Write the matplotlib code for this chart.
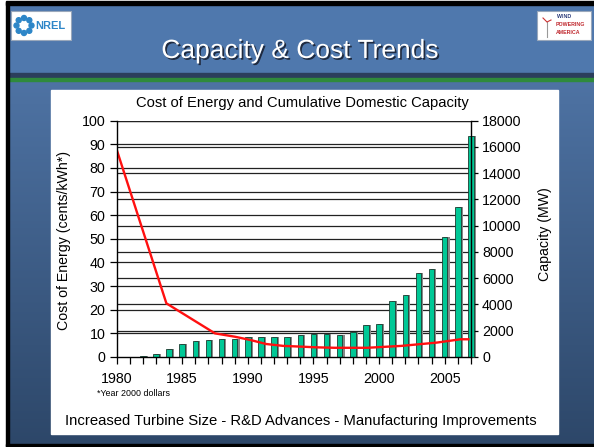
import numpy as np
import matplotlib.pyplot as plt
from matplotlib.patches import Rectangle, Circle
from matplotlib.lines import Line2D
from matplotlib.transforms import blended_transform_factory
import matplotlib.patheffects as pe

plt.rcParams['font.family'] = ['Liberation Sans', 'DejaVu Sans']

# cumulative installed capacity (MW), one bar per year
years = np.arange(1980, 2008)
capacity = [0, 0, 75, 250, 580, 1000, 1210, 1310, 1350, 1340, 1520, 1530, 1550, 1560,
            1680, 1730, 1780, 1650, 1880, 2470, 2540, 4240, 4690, 6370, 6740, 9150,
            11400, 16850]

# cost of energy curve (cents/kWh, year 2000 dollars)
cost_years = [1980, 1983.8, 1987.5, 1989.0, 1990.2, 1991.4, 1992.7, 1994.0, 1995.2,
              1996.6, 1999.1, 2001.7, 2004.4, 2006.2, 2006.8]
cost = [88, 22.7, 10.0, 8.6, 7.2, 5.5, 4.7, 4.4, 4.1, 3.9, 3.9, 4.7, 6.1, 7.5, 7.5]

cost_ticks = np.arange(0, 101, 10)
cap_ticks = np.arange(0, 18001, 2000)
year_labels = [1980, 1985, 1990, 1995, 2000, 2005]

W, H = 594, 447
fig = plt.figure(figsize=(W / 100, H / 100), dpi=100)

# ---- slide background (pixel coordinates) ----
bg = fig.add_axes([0, 0, 1, 1])
bg.set_xlim(0, W)
bg.set_ylim(H, 0)
bg.axis('off')
grad = np.linspace(0, 1, 256)[:, None]
top_c = np.array([0x55, 0x7c, 0xb0]) / 255
bot_c = np.array([0x2d, 0x47, 0x69]) / 255
img = top_c[None, None, :] * (1 - grad[..., None]) + bot_c[None, None, :] * grad[..., None]
bg.imshow(img, extent=[7, W, 445, 4], aspect='auto', zorder=0)
bg.add_patch(Rectangle((7, 4), W, 70, color='#4f78ad', zorder=1))
bg.add_patch(Rectangle((7, 73), W, 5, color='#2b3e5c', zorder=1))
bg.add_patch(Rectangle((7, 78), W, 2.5, color='#2f8a3c', zorder=1))
bg.add_patch(Rectangle((0, 0), 7, H, color='white', zorder=1))
bg.add_patch(Rectangle((5.5, 2), 3, 444, color='black', zorder=2))
bg.add_patch(Rectangle((5.5, 1), W, 3.5, color='black', zorder=2))
bg.add_patch(Rectangle((5.5, 443.5), W, 3.5, color='black', zorder=2))

# logos
bg.add_patch(Rectangle((11, 11), 60, 29, facecolor='white', edgecolor='#9aa8bb', lw=0.8, zorder=3))
for a in np.linspace(0, 2 * np.pi, 8, endpoint=False):
    bg.add_patch(Circle((24 + 7.5 * np.cos(a), 25.5 + 7.5 * np.sin(a)), 2.5, color='#2d86c8', zorder=4))
bg.text(50, 26, 'NREL', color='#2d86c8', fontsize=8, fontweight='bold', ha='center', va='center', zorder=4)
bg.add_patch(Rectangle((537, 11), 54, 29, facecolor='white', edgecolor='#9aa8bb', lw=0.8, zorder=3))
bg.plot([547, 547], [22, 37], color='#999999', lw=0.8, zorder=4)
bg.plot([543, 547, 551], [18, 22, 20], color='#cc3333', lw=0.8, zorder=4)
bg.text(557, 16, 'WIND', color='#2a3b7a', fontsize=3.8, fontweight='bold', va='center', zorder=4)
bg.text(556, 24, 'POWERING', color='#c0282e', fontsize=3.8, fontweight='bold', va='center', zorder=4)
bg.text(556, 32, 'AMERICA', color='#c0282e', fontsize=3.8, fontweight='bold', va='center', zorder=4)

bg.text(300, 51, 'Capacity & Cost Trends', color='white', fontsize=19, ha='center', va='center',
        zorder=4, path_effects=[pe.withSimplePatchShadow(offset=(1.2, -1.2), shadow_rgbFace='#1a2233', alpha=0.9)])

# white chart panel
bg.add_patch(Rectangle((51, 90), 507, 344, color='white', zorder=3))
bg.text(302, 103, 'Cost of Energy and Cumulative Domestic Capacity', fontsize=10.6, ha='center', va='center', zorder=4)
bg.text(64, 240, 'Cost of Energy (cents/kWh*)', fontsize=10.2, rotation=90, ha='center', va='center', zorder=4)
bg.text(545, 234, 'Capacity (MW)', fontsize=10.2, rotation=90, ha='center', va='center', zorder=4)
bg.text(97, 393, '*Year 2000 dollars', fontsize=6.4, ha='left', va='center', zorder=4)
bg.text(301, 421, 'Increased Turbine Size - R&D Advances - Manufacturing Improvements',
        fontsize=10.7, ha='center', va='center', zorder=4)

# ---- chart ----
left, right, top, bottom = 116.5, 471, 120.7, 357
ax = fig.add_axes([left / W, 1 - bottom / H, (right - left) / W, (bottom - top) / H])
ax2 = ax.twinx()
ax.set_zorder(ax2.get_zorder() + 1)
ax.patch.set_visible(False)
ax2.patch.set_visible(False)

# horizontal grid lines for both scales, under the bars
tr_cost = blended_transform_factory(ax2.transAxes, ax.transData)
for v in cost_ticks[1:]:
    ax2.add_line(Line2D([0, 1], [v, v], transform=tr_cost, color='#222222', lw=0.9, zorder=0.5))
for v in cap_ticks[1:]:
    ax2.axhline(v, color='#222222', lw=0.9, zorder=0.5)

ax2.bar(np.array(years) + 0.16, capacity, width=0.42, color='#888888', zorder=1, clip_on=False)
ax2.bar(years, capacity, width=0.42, color='#00c896', edgecolor='#1d3b30', lw=0.6, zorder=2, clip_on=False)
ax.plot(cost_years, cost, color='#ff1010', lw=1.7, solid_joinstyle='miter')

ax.set_xlim(1980, 2007)
ax.set_ylim(0, 100)
ax2.set_ylim(0, 18000)
ax.set_yticks(cost_ticks)
ax2.set_yticks(cap_ticks)
ax.set_xticks(years, minor=False)
ax.set_xticklabels([str(y) if y in year_labels else '' for y in years])

for a in (ax, ax2):
    a.tick_params(labelsize=10.3, length=5, width=0.9, color='black', pad=3)
    for s in a.spines.values():
        s.set_color('black')
        s.set_linewidth(1.0)
    a.spines['top'].set_visible(False)
ax.spines['right'].set_visible(False)
ax2.spines['left'].set_visible(False)
ax2.spines['bottom'].set_visible(False)
ax.tick_params(axis='x', pad=6)

fig.savefig('out.png', dpi=100)
